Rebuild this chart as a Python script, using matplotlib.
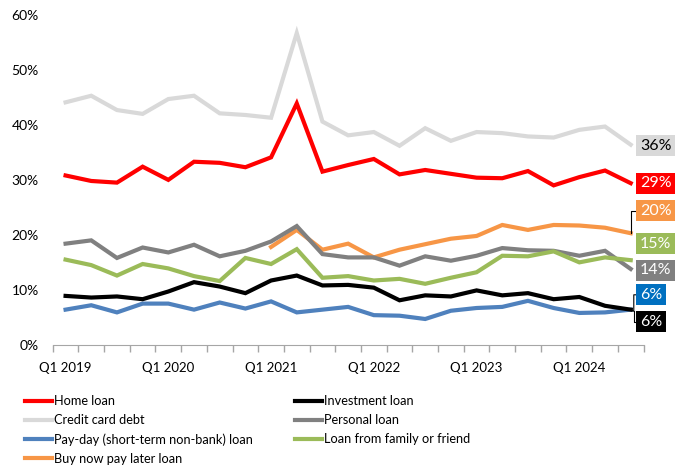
import numpy as np
import matplotlib.pyplot as plt

plt.rcParams['font.family'] = ['Lato', 'DejaVu Sans']

quarters = ["Q1 2019", "Q2 2019", "Q3 2019", "Q4 2019",
            "Q1 2020", "Q2 2020", "Q3 2020", "Q4 2020",
            "Q1 2021", "Q2 2021", "Q3 2021", "Q4 2021",
            "Q1 2022", "Q2 2022", "Q3 2022", "Q4 2022",
            "Q1 2023", "Q2 2023", "Q3 2023", "Q4 2023",
            "Q1 2024", "Q2 2024", "Q3 2024"]

home_loan = [30.8, 29.8, 29.5, 32.4, 30.0, 33.3, 33.1, 32.3, 34.1, 43.9, 31.5, 32.7,
             33.8, 31.0, 31.8, 31.1, 30.4, 30.3, 31.6, 29.0, 30.5, 31.7, 29.4]
investment_loan = [8.9, 8.6, 8.8, 8.3, 9.7, 11.4, 10.6, 9.4, 11.7, 12.6, 10.8, 10.9,
                   10.4, 8.1, 9.0, 8.8, 9.9, 9.0, 9.4, 8.3, 8.7, 7.1, 6.4]
credit_card = [44.1, 45.3, 42.7, 42.0, 44.7, 45.3, 42.1, 41.8, 41.3, 56.7, 40.6, 38.1,
               38.7, 36.2, 39.4, 37.1, 38.7, 38.5, 37.9, 37.7, 39.1, 39.7, 36.4]
personal_loan = [18.4, 19.0, 15.8, 17.7, 16.8, 18.2, 16.1, 17.1, 18.8, 21.6, 16.5, 15.9,
                 15.9, 14.4, 16.1, 15.3, 16.2, 17.6, 17.2, 17.1, 16.2, 17.1, 13.8]
payday_loan = [6.4, 7.2, 5.9, 7.5, 7.5, 6.4, 7.7, 6.6, 7.9, 5.9, 6.4, 6.9,
               5.4, 5.3, 4.7, 6.2, 6.7, 6.9, 8.0, 6.7, 5.8, 5.9, 6.4]
family_loan = [15.5, 14.5, 12.6, 14.7, 13.9, 12.5, 11.6, 15.8, 14.7, 17.4, 12.2, 12.5,
               11.7, 12.0, 11.1, 12.2, 13.2, 16.2, 16.1, 17.0, 15.0, 15.9, 15.4]
bnpl_loan = [np.nan] * 8 + [17.8, 20.9, 17.3, 18.4, 15.9, 17.3, 18.3, 19.3, 19.8,
                            21.8, 20.9, 21.8, 21.7, 21.3, 20.3]

# name, values, line colour, label box colour, label text colour, label height (%)
series = [
    ("Home loan", home_loan, "#FF0000", "#FF0000", "white", 29.4),
    ("Credit card debt", credit_card, "#D9D9D9", "#D9D9D9", "black", 36.2),
    ("Pay-day (short-term non-bank) loan", payday_loan, "#4F81BD", "#0070C0", "white", 9.1),
    ("Buy now pay later loan", bnpl_loan, "#F79646", "#F79646", "white", 24.4),
    ("Investment loan", investment_loan, "#000000", "#000000", "white", 4.2),
    ("Personal loan", personal_loan, "#808080", "#808080", "white", 13.6),
    ("Loan from family or friend", family_loan, "#9BBB59", "#9BBB59", "white", 18.4),
]

fig = plt.figure(figsize=(6.76, 4.66), dpi=100)
ax = fig.add_axes([0.078, 0.26, 0.874, 0.708])

x = np.arange(len(quarters))
last = len(quarters) - 1
for name, vals, color, box, txt, label_y in series:
    v = np.array(vals) / 100
    ax.plot(x, v, color=color, lw=3.0, label=name, solid_joinstyle='miter')
    ax.text(last + 0.36, label_y / 100, f"{round(vals[-1])}%", color=txt,
            fontsize=11.5, ha='left', va='center', clip_on=False,
            bbox=dict(boxstyle='square,pad=0.22', fc=box, ec='none'))

# leader lines from the crowded end points to their labels
lx = last + 0.12
ax.plot([last, last, last + 0.36], [bnpl_loan[-1] / 100, 0.244, 0.244],
        color='black', lw=0.8, clip_on=False)
ax.plot([last, lx, lx, last + 0.5], [payday_loan[-1] / 100, 0.061, 0.091, 0.091],
        color='black', lw=0.8, clip_on=False)
ax.plot([lx, lx, last + 0.36], [0.061, 0.042, 0.042],
        color='black', lw=0.8, clip_on=False)

ax.set_xlim(-0.5, len(quarters) - 0.5)
ax.set_ylim(0, 0.6)
ax.set_yticks(np.arange(0, 0.61, 0.1))
ax.set_yticklabels([f"{int(round(t * 100))}%" for t in np.arange(0, 0.61, 0.1)])
ax.set_xticks(x[::4])
ax.set_xticklabels(quarters[::4])
ax.set_xticks(np.arange(-0.5, len(quarters), 1), minor=True)
ax.tick_params(axis='x', which='major', length=0, pad=12, labelsize=9.5)
ax.tick_params(axis='x', which='minor', length=5, color='#A6A6A6', width=1)
ax.tick_params(axis='y', length=0, pad=10, labelsize=10)

for side in ['top', 'right', 'left']:
    ax.spines[side].set_visible(False)
ax.spines['bottom'].set_color('#A6A6A6')

fig.legend(*ax.get_legend_handles_labels(), loc='upper left',
           bbox_to_anchor=(0.037, 0.152), ncol=2, frameon=False,
           fontsize=9.2, handlelength=2.1, handletextpad=0.15, columnspacing=3.3,
           labelspacing=0.55, borderpad=0, borderaxespad=0)

fig.savefig("out.png", dpi=100)
